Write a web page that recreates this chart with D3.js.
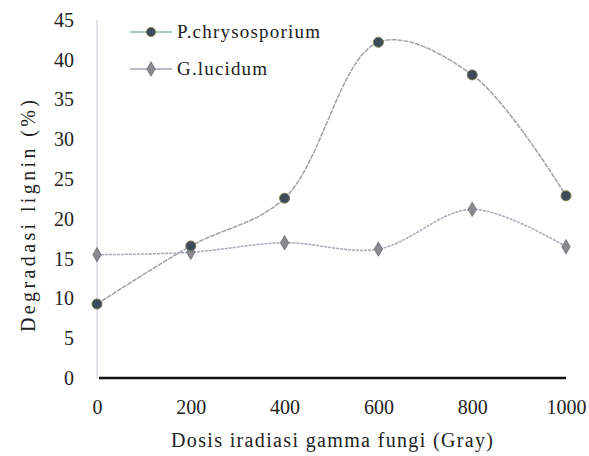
<!DOCTYPE html>
<html>
<head>
<meta charset="utf-8">
<script src="https://cdn.jsdelivr.net/npm/d3@7"></script>
<style>
  body { margin: 0; background: #fff; }
  svg text { font-family: "Liberation Serif", "DejaVu Serif", "Times New Roman", serif !important; fill: #222; }
</style>
</head>
<body>
<script>
// data
var doses = [0, 200, 400, 600, 800, 1000];
var pchrysosporium = [9.3, 16.6, 22.6, 42.2, 38.1, 22.9];
var glucidum = [15.5, 15.8, 17.0, 16.2, 21.2, 16.5];
var yTicks = [0, 5, 10, 15, 20, 25, 30, 35, 40, 45];

var margin = {top: 20, right: 23, bottom: 78, left: 97},
    width = 589 - margin.left - margin.right,
    height = 456 - margin.top - margin.bottom;

var svg = d3.select("body")
  .append("svg")
    .attr("width", 589)
    .attr("height", 456);

var g = svg.append("g")
    .attr("transform", "translate(" + margin.left + "," + margin.top + ")");

var x = d3.scaleLinear().domain([0, 1000]).range([0, width]);
var y = d3.scaleLinear().domain([0, 45]).range([height, 0]);

// y axis line (light)
g.append("line")
  .attr("x1", 0).attr("x2", 0)
  .attr("y1", y(45)).attr("y2", y(0))
  .attr("stroke", "#d8d8e0")
  .attr("stroke-width", 1.5);

// y tick labels
g.append("g")
  .call(d3.axisLeft(y).tickValues(yTicks).tickSize(0).tickPadding(23))
  .call(function(a) { a.select(".domain").remove(); })
  .selectAll("text")
    .style("font-size", "20px");

// x axis
g.append("g")
  .attr("transform", "translate(0," + height + ")")
  .call(d3.axisBottom(x).tickValues(doses).tickFormat(d3.format("d")).tickSize(0).tickPadding(22))
  .call(function(a) { a.select(".domain").remove(); })
  .selectAll("text")
    .style("font-size", "20px");

g.append("line")
  .attr("x1", x(0) + 2).attr("x2", x(1000))
  .attr("y1", y(0)).attr("y2", y(0))
  .attr("stroke", "#111")
  .attr("stroke-width", 2.5);

// axis titles
svg.append("text")
  .attr("x", 171)
  .attr("y", 447)
  .attr("textLength", 322)
  .style("font-size", "20px")
  .text("Dosis iradiasi gamma fungi (Gray)");

svg.append("text")
  .attr("transform", "translate(35,332) rotate(-90)")
  .attr("textLength", 232)
  .style("font-size", "20px")
  .text("Degradasi lignin (%)");

var line = d3.line()
  .x(function(d, i) { return x(doses[i]); })
  .y(function(d) { return y(d); })
  .curve(d3.curveCatmullRom.alpha(0.5));

// G.lucidum
g.append("path")
  .datum(glucidum)
  .attr("fill", "none")
  .attr("stroke", "#a8a8b8")
  .attr("stroke-width", 1.5)
  .attr("stroke-dasharray", "3,1")
  .attr("d", line);

// P.chrysosporium
g.append("path")
  .datum(pchrysosporium)
  .attr("fill", "none")
  .attr("stroke", "#a0a0a8")
  .attr("stroke-width", 1.5)
  .attr("stroke-dasharray", "5,1")
  .attr("d", line);

var diamond = d3.symbol().type(d3.symbolDiamond).size(60);

g.selectAll(".gl")
  .data(glucidum)
  .enter().append("path")
    .attr("class", "gl")
    .attr("transform", function(d, i) { return "translate(" + x(doses[i]) + "," + y(d) + ")"; })
    .attr("d", diamond)
    .attr("fill", "#8a8a90")
    .attr("stroke", "#6a6a70")
    .attr("stroke-width", 0.8);

g.selectAll(".pc")
  .data(pchrysosporium)
  .enter().append("circle")
    .attr("class", "pc")
    .attr("cx", function(d, i) { return x(doses[i]); })
    .attr("cy", function(d) { return y(d); })
    .attr("r", 5)
    .attr("fill", "#3d4a5a")
    .attr("stroke", "#7a7a50")
    .attr("stroke-width", 1);

// legend
var legend = svg.append("g").attr("transform", "translate(130,32)");
var names = ["P.chrysosporium", "G.lucidum"];
var nameLen = [143, 90];
names.forEach(function(n, i) {
  var row = legend.append("g").attr("transform", "translate(0," + (i * 37) + ")");
  row.append("line")
    .attr("x1", 0).attr("x2", 42)
    .attr("stroke", i === 0 ? "#8fb8a8" : "#a8a0b8")
    .attr("stroke-width", 1.5);
  if (i === 0) {
    row.append("circle").attr("cx", 21).attr("r", 4.5)
      .attr("fill", "#3d4a5a").attr("stroke", "#7a7a50");
  } else {
    row.append("path").attr("transform", "translate(21,0)")
      .attr("d", diamond).attr("fill", "#8a8a90").attr("stroke", "#6a6a70").attr("stroke-width", 0.8);
  }
  row.append("text")
    .attr("x", 47).attr("y", 6)
    .attr("textLength", nameLen[i])
    .style("font-size", "19px")
    .text(n);
});
</script>
</body>
</html>
